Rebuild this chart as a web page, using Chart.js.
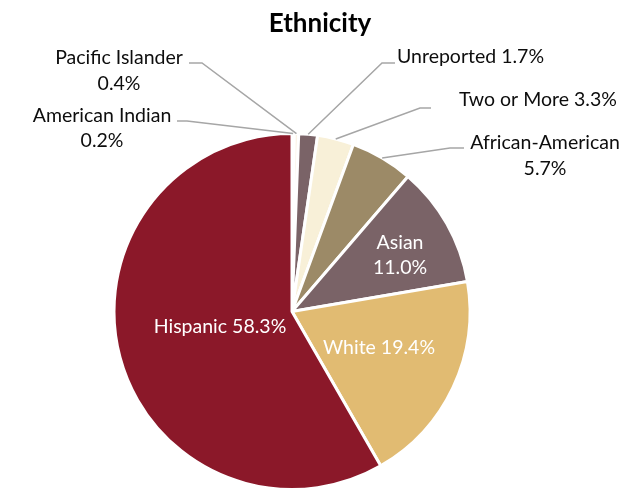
<!DOCTYPE html>
<html>
<head>
<meta charset="utf-8">
<script src="https://cdn.jsdelivr.net/npm/chart.js@4/dist/chart.umd.min.js"></script>
<style>
  html, body { margin: 0; padding: 0; background: #ffffff; }
  #wrap { width: 623px; height: 493px; position: relative; }
</style>
</head>
<body>
<div id="wrap"><canvas id="c" width="623" height="493"></canvas></div>
<script>
// ---- data ----
const categories = ["American Indian", "Pacific Islander", "Unreported", "Two or More", "African-American", "Asian", "White", "Hispanic"];
const percentages = [0.2, 0.4, 1.7, 3.3, 5.7, 11.0, 19.4, 58.3];
const chartTitle = "Ethnicity";

// ---- styles ----
const sliceColors = ["#F4D3BE", "#FBF3E6", "#7A6367", "#F8F0D8", "#9C8A67", "#7A6367", "#E1BB72", "#8B1829"];
const FONT = "Lato, 'Open Sans', sans-serif";
const LABEL_SIZE = 19.5;

// label placement (outside labels with leader lines, inside labels)
const labelLayout = [
  { mode: 'out', lines: (n, v) => [n, v], align: 'center', x: 102, y: [116, 141], elbow: [187, 121], end: [177, 121] },
  { mode: 'out', lines: (n, v) => [n, v], align: 'center', x: 119, y: [58, 84], elbow: [202, 63], end: [189, 63] },
  { mode: 'out', lines: (n, v) => [n + ' ' + v], align: 'left', x: 397, y: [57], elbow: [382, 63], end: [395, 63] },
  { mode: 'out', lines: (n, v) => [n + ' ' + v], align: 'left', x: 459, y: [100], elbow: [420, 108], end: [431, 108] },
  { mode: 'out', lines: (n, v) => [n, v], align: 'center', x: 545, y: [143, 169], elbow: [450, 148], end: [464, 148] },
  { mode: 'in', lines: (n, v) => [n, v], x: 400, y: [243, 268] },
  { mode: 'in', lines: (n, v) => [n + ' ' + v], x: 379, y: [348] },
  { mode: 'in', lines: (n, v) => [n + ' ' + v], x: 220, y: [327] }
];

const labelPlugin = {
  id: 'pieLabels',
  afterDatasetsDraw(chart) {
    const ctx = chart.ctx;
    const meta = chart.getDatasetMeta(0);
    ctx.save();
    // title
    ctx.fillStyle = '#000000';
    ctx.font = "bold 26px " + FONT;
    ctx.textAlign = 'center';
    ctx.textBaseline = 'middle';
    ctx.fillText(chartTitle, 320, 24);

    meta.data.forEach((arc, i) => {
      const lay = labelLayout[i];
      const name = categories[i];
      const val = percentages[i].toFixed(1) + '%';
      const texts = lay.lines(name, val);
      ctx.font = LABEL_SIZE + "px " + FONT;
      ctx.textBaseline = 'middle';
      if (lay.mode === 'out') {
        const p = arc.getProps(['x', 'y', 'startAngle', 'endAngle', 'outerRadius'], true);
        const mid = (p.startAngle + p.endAngle) / 2;
        const sx = p.x + Math.cos(mid) * p.outerRadius;
        const sy = p.y + Math.sin(mid) * p.outerRadius;
        ctx.strokeStyle = '#A6A6A6';
        ctx.lineWidth = 1.5;
        ctx.beginPath();
        ctx.moveTo(sx, sy);
        ctx.lineTo(lay.elbow[0], lay.elbow[1]);
        ctx.lineTo(lay.end[0], lay.end[1]);
        ctx.stroke();
        ctx.fillStyle = '#0d0d0d';
        ctx.textAlign = lay.align;
        texts.forEach((t, k) => ctx.fillText(t, lay.x, lay.y[k]));
      } else {
        ctx.fillStyle = '#ffffff';
        ctx.textAlign = 'center';
        texts.forEach((t, k) => ctx.fillText(t, lay.x, lay.y[k]));
      }
    });
    ctx.restore();
  }
};

new Chart(document.getElementById('c'), {
  type: 'pie',
  data: {
    labels: categories,
    datasets: [{
      data: percentages,
      backgroundColor: sliceColors,
      borderColor: '#ffffff',
      borderWidth: 3
    }]
  },
  options: {
    responsive: false,
    animation: false,
    layout: { padding: { left: 112.5, right: 151.5, top: 132, bottom: 2 } },
    plugins: {
      legend: { display: false },
      title: { display: false },
      tooltip: { enabled: false }
    }
  },
  plugins: [labelPlugin]
});
</script>
</body>
</html>
